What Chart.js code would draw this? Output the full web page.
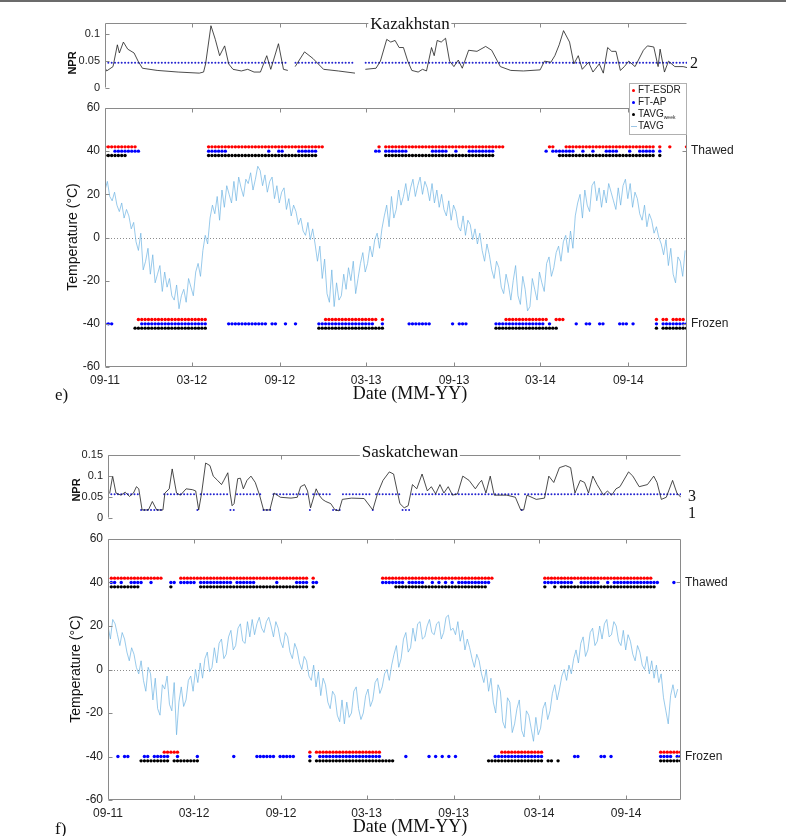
<!DOCTYPE html>
<html><head><meta charset="utf-8">
<script src="https://cdn.jsdelivr.net/npm/chart.js@4.4.1/dist/chart.umd.min.js"></script>
<style>
html,body{margin:0;padding:0;background:#fff;}
#page{position:relative;width:786px;height:836px;overflow:hidden;background:#fff;}
canvas{position:absolute;left:0;}
.t{position:absolute;white-space:nowrap;color:#111;line-height:1;}
.serif{font-family:'Liberation Serif','Times New Roman',serif;}
.sans{font-family:'Liberation Sans',Arial,sans-serif;}
.rot{transform:translate(-50%,-50%) rotate(-90deg);}
.ctr{transform:translate(-50%,-50%);}
.dot{position:absolute;width:3px;height:3px;border-radius:50%;}
</style></head>
<body><div id="page">
<div style="position:absolute;left:0;top:0;width:786px;height:2px;background:#6b6b6b"></div>
<canvas id="nprK" width="786" height="100" style="top:0px"></canvas>
<canvas id="tempK" width="786" height="320" style="top:80px"></canvas>
<canvas id="nprS" width="786" height="100" style="top:430px"></canvas>
<canvas id="tempS" width="786" height="316" style="top:520px"></canvas>

<div class="t serif ctr" style="left:410px;top:23px;font-size:17px;background:#fff;padding:0 2px;">Kazakhstan</div>
<div class="t sans rot" style="left:72px;top:63px;font-size:11px;font-weight:bold;">NPR</div>
<div class="t serif" style="left:690px;top:55px;font-size:16px;">2</div>
<div class="t sans rot" style="left:72px;top:237px;font-size:14px;">Temperature (°C)</div>
<div class="t serif ctr" style="left:410px;top:393px;font-size:18px;">Date (MM-YY)</div>
<div class="t serif" style="left:55px;top:386px;font-size:17px;">e)</div>

<div style="position:absolute;left:629px;top:83px;width:56px;height:50px;border:1px solid #b0b0b0;background:#fff;">
  <div class="dot" style="left:2px;top:5px;background:#ff0000"></div>
  <div class="t sans" style="left:8px;top:1px;font-size:10px;color:#222">FT-ESDR</div>
  <div class="dot" style="left:2px;top:17px;background:#0000ff"></div>
  <div class="t sans" style="left:8px;top:13px;font-size:10px;color:#222">FT-AP</div>
  <div class="dot" style="left:2px;top:29px;background:#000"></div>
  <div class="t sans" style="left:8px;top:25px;font-size:10px;color:#222">TAVG<span style="font-size:5px;vertical-align:-2px">week</span></div>
  <div style="position:absolute;left:1px;top:42px;width:6px;height:1px;background:#9cc6e6"></div>
  <div class="t sans" style="left:8px;top:37px;font-size:10px;color:#222">TAVG</div>
</div>

<div class="t serif ctr" style="left:410px;top:451px;font-size:17px;background:#fff;padding:0 2px;">Saskatchewan</div>
<div class="t sans rot" style="left:76px;top:490px;font-size:11px;font-weight:bold;">NPR</div>
<div class="t serif" style="left:688px;top:488px;font-size:16px;">3</div>
<div class="t serif" style="left:688px;top:505px;font-size:16px;">1</div>
<div class="t sans rot" style="left:75px;top:669px;font-size:14px;">Temperature (°C)</div>
<div class="t serif ctr" style="left:410px;top:826px;font-size:18px;">Date (MM-YY)</div>
<div class="t serif" style="left:55px;top:820px;font-size:17px;">f)</div>
</div>

<script>
// ---------------- DATA ----------------
const tickDays = [0, 182, 366, 547, 731, 912, 1096];
const tickLabels = ['09-11', '03-12', '09-12', '03-13', '09-13', '03-14', '09-14'];
const tempTicks = [-60, -40, -20, 0, 20, 40, 60];
const stateTicks = [-40, 40];
const stateLabels = ['Frozen', 'Thawed'];
const nprKTicks = [0, 0.05, 0.1];
const nprKTickLabels = ['0', '0.05', '0.1'];
const nprSTicks = [0, 0.05, 0.1, 0.15];
const nprSTickLabels = ['0', '0.05', '0.1', '0.15'];
const WEEK_DAYS = 7;
const TEMP_STEP_DAYS = 5;

// daily mean air temperature (sampled every 5 days), Kazakhstan
const tempK = [
22,26,19,17,21,15,12,16,9,13,
10,4,7,-2,-6,2,-15,-11,-5,-17,
-8,-21,-17,-13,-25,-16,-23,-19,-27,-29,
-22,-33,-27,-24,-30,-19,-23,-27,-16,-12,
-18,-6,1,-3,9,15,11,19,8,22,
14,24,20,16,26,17,28,23,19,27,
25,30,22,27,33,31,24,29,21,26,
28,18,24,16,21,23,13,18,10,15,
12,6,9,3,1,7,-1,4,-3,-11,
-4,-19,-10,-26,-30,-15,-32,-21,-29,-27,
-17,-24,-14,-20,-11,-26,-19,-12,-7,-16,
-12,-4,-9,-1,2,-5,4,10,15,5,
19,9,13,22,15,19,25,17,23,27,
19,24,28,20,26,23,17,25,16,22,
14,20,13,10,17,8,15,12,5,3,
10,1,8,6,-1,4,-3,2,-6,-11,
-3,-8,-15,-19,-11,-14,-23,-26,-17,-22,
-29,-20,-13,-27,-31,-18,-24,-34,-32,-19,
-24,-29,-16,-21,-25,-12,-9,-18,-14,-7,
-4,-11,-2,1,-7,3,-5,10,16,20,
9,22,15,12,24,26,17,23,14,22,
16,25,21,17,13,23,15,24,27,18,
25,14,21,18,11,8,15,5,11,8,
2,5,0,-3,-8,-1,-13,-5,-17,-21,
-9,-11,-18,-6
];
// daily mean air temperature (sampled every 5 days), Saskatchewan
const tempS = [
20,14,23,21,16,11,17,14,8,4,
10,7,1,-2,4,-5,-10,1,-2,-14,
-4,-18,-21,-7,-9,-3,-16,-19,-6,-30,
-15,-8,-17,-14,-5,-3,-10,0,-6,3,
-4,5,8,-1,1,10,3,12,14,5,
7,15,18,9,11,19,21,13,12,22,
15,23,16,21,24,19,17,22,24,20,
15,22,19,13,10,17,15,8,5,12,
9,3,0,6,4,-3,-5,2,-8,-1,
-12,-4,-7,-15,-18,-10,-12,-21,-24,-14,
-25,-15,-22,-20,-10,-8,-18,-23,-20,-12,
-9,-17,-14,-6,-4,-11,-8,-2,0,-5,
2,7,11,1,5,14,17,8,10,19,
13,21,22,14,15,20,23,17,16,21,
22,14,17,24,25,18,19,16,22,13,
18,9,14,10,5,1,7,4,-2,-6,
0,-10,-4,-15,-20,-7,-10,-24,-27,-13,
-15,-29,-25,-18,-14,-28,-31,-19,-21,-27,
-33,-22,-30,-27,-18,-15,-23,-19,-11,-7,
-14,-9,-3,0,-5,2,-2,5,9,3,
12,15,6,9,17,19,11,13,20,14,
21,23,15,16,22,20,13,11,18,9,
16,13,7,4,11,8,2,0,6,-2,
4,-4,2,-6,-2,-13,-19,-25,-12,-7,
-13,-9
];

// weekly freeze/thaw states: T = thawed, F = frozen, - = no retrieval
const esdrK = "TTTTTTTTTT FFFFFFFFFF FFFFFFFFFF FTTTTTTTTT TTTTTTTTTT TTTTTTTTTT TTTTTTFFFF FFFFFFFFFF FFTFTTTTTT TTTTTTTTTT TTTTTTTTTT TTTTTTTTTT FFFFFFFFFF FFFTTFFFTT TTTTTTTTTT TTTTTTTTTT TTTTTFTFFT FFFFT";
const apK   = "FFFTTTTTTT TFFFFFFFFF FFFFFFFFFF FTTTTTTFFF FFFFFFFFFT FFTTF--FTT TTTTFFFFFF FFFFFFFFFF FTTFTTTTTT TFFFFFFFTT TTT-FTFFFT TTTTTTTFFF FFFFFFFFFF FFTFTTTTTT TF-TFFT-FF TTTTFFFTF- TTTTTFTFFF FFFFF";
const tavgK = "TTTTTTT--F FFFFFFFFFF FFFFFFFFFF FTTTTTTTTT TTTTTTTTTT TTTTTTTTTT TTTTFFFFFF FFFFFFFFFF FFFFTTTTTT TTTTTTTTTT TTTTTTTTTT TTTTTTTFFF FFFFFFFFFF FFFFFFTTTT TTTTTTTTTT TTTTTTTTTT TTTTTFTFFF FFFFF";
const esdrS = "-TTTTTTTTT TTTTTTTFFF FFTTTTTTTT TTTTTTTTTT TTTTTTTTTT TTTTTTTTTT TFTFFFFFFF FFFFFFFFFF FFFTTTTTTT TTTTTTTTTT TTTTTTTTTT TTTTTTT--F FFFFFFFFFF FFTTTTTTTT TTTTTTTTTT TTTTTTTTTT TTTTT--FFF FFFF";
const apS   = "-TTFTFFTTT TFFTFFFFFT TFTTTTTFTT TTTTTTTTFT TTTTTFFFFF FTFFFFFTTT TFTTFFFFFF FFFFFFFFFF FFFTTTTTTT FTTTTT-FTF TFTFTFTTTT TTTTTT-FFF FFFFFFFFFF FFTTTTTTTT TFFTTTTTTF FTFTTTTTTT TTTTTTTFFF FTFF";
const tavgS = "-TTTTTTTTT FFFFFFFFFT FFFFFFFFTT TTTTTTTTTT TTTTTTTTTT TTTTTTTTTT TFTFFFFFFF FFFFFFFFFF FFFFFFFTTT TTTTTTTTTT TTTTTTTTTT TTTTTFFFFF FFFFFFFFFF FFTFFTFTTT TTTTTTTTTT TTTTTTTTTT TTTTTT-FFF FFFF";

// NPR (week, value); null = gap
const nprKWeeks = [0,0.5,2.4,3.7,4.3,5.5,6.8,8.7,9.9,11.2,15.6,21.9,28.2,29.5,30.1,31.7,33,34.3,35.8,37,38.3,40.8,42.7,44.6,46.5,48.4,49.6,51.9,53.4,54.7,55.8,56.9,59.7,62.2,65.4,69.8,74.8,76.3,77.9,81.1,82.4,84.3,85.5,86.8,88,89.3,90.6,91.8,93.7,95,96.2,97.7,98.5,99.4,100.6,101.9,103.1,104.4,105.7,106.9,108.8,111.3,113.9,115.7,118.3,121.4,125.2,130.2,131.5,133.4,134.6,135.9,137.2,139,140.3,141.6,142.8,144.7,146,147.9,149.1,150.4,151.6,152.9,154.2,155.4,156.7,158.6,161.1,162.3,164.2,165.5,166.1,167.4,168.6,170.5,173,174.3];
const nprKVals  = [0.038,0.032,0.04,0.08,0.065,0.085,0.072,0.065,0.05,0.037,0.033,0.03,0.028,0.03,0.045,0.115,0.09,0.06,0.078,0.045,0.035,0.032,0.035,0.03,0.03,0.06,0.035,0.082,0.035,0.033,null,0.04,0.067,0.055,0.035,0.032,0.028,null,0.035,0.037,0.05,0.09,0.085,0.088,0.075,0.075,0.05,0.033,0.03,0.035,0.032,0.075,0.06,0.088,0.085,0.092,0.05,0.04,0.052,0.037,0.07,0.068,0.077,0.07,0.04,0.033,0.032,0.034,0.05,0.048,0.06,0.08,0.106,0.085,0.045,0.06,0.035,0.048,0.03,0.045,0.028,0.075,0.068,0.068,0.033,0.04,0.05,0.04,0.07,0.078,0.076,0.04,0.072,0.03,0.05,0.04,0.04,0.038];
const nprSWeeks = [0.5,1.4,2.4,3.9,5.2,6.5,7.7,8.6,9.3,10.3,12.2,13.4,14.7,16.6,17.2,18.5,19.4,20.7,21.9,23.6,25.5,26.5,27.4,28.3,29.5,30.8,31.8,33.1,34.3,35,36.2,36.9,37.5,38.1,39.2,40,40.9,42,43.2,44.5,45.8,47,48.9,50.2,52.1,55.3,57.2,58.2,59.4,60.3,61.2,62.9,63.8,64.8,65.8,67.3,68.6,69.8,70.8,73.6,77.4,80,81.5,83.1,85,86.3,88.2,89.5,90.7,92,93.3,94.9,96.5,97.7,99,100.3,101.5,102.8,104.1,105.6,107.2,109.1,111,112.3,112.9,114.2,115.5,116.7,120.5,123.1,124.7,125.6,126.6,129.4,131.9,133.2,134.7,136.4,138.3,139.8,141.1,142.7,144,145.2,146.5,147.8,149.7,150.9,152.2,153.5,154.7,157.3,158.6,160.5,163,164.9,165.9,167.2,168.7,170.6,171.9,173.1];
const nprSVals  = [0.059,0.1,0.06,0.055,0.062,0.052,0.06,0.075,0.07,0.02,0.02,0.04,0.02,0.02,0.06,0.07,0.117,0.06,0.055,0.07,0.068,0.065,0.02,0.06,0.131,0.125,0.1,0.09,0.08,0.09,0.108,0.06,0.03,0.035,0.094,0.095,0.07,0.09,0.1,0.085,0.055,0.02,0.02,0.06,0.05,0.048,0.05,0.075,0.08,0.065,0.025,0.07,0.055,0.045,0.04,0.035,0.02,0.018,0.045,0.048,0.047,0.02,0.06,0.09,0.11,0.105,0.035,0.025,0.03,0.08,0.07,0.105,0.065,0.075,0.058,0.08,0.06,0.075,0.055,0.058,0.1,0.09,0.07,0.085,0.09,0.06,0.1,0.055,0.055,0.05,0.02,0.02,0.055,0.045,0.048,0.1,0.085,0.12,0.125,0.12,0.06,0.09,0.085,0.06,0.1,0.08,0.055,0.065,0.055,0.07,0.075,0.11,0.1,0.075,0.08,0.1,0.085,0.045,0.05,0.09,0.06,0.05];

// weekly NPR threshold class (H = upper level, L = lower level, - = none)
const thrK = "HHHHHHHHHH HHHHHHHHHH HHHHHHHHHH HHHHHHHHHH HHHHHHHHHH HHHHH--HHH HHHHHHHHHH HHHHH---HH HHHHHHHHHH HHHHHHHHHH HHHHHHHHHH HHHHHHHHHH HHHHHHHHHH HHHHHHHHHH HHHHHHHHHH HHHHHHHHHH HHHHHHHHHH HHHHH";
const thrS = "HHHHHHHHHH LLLLLLLHHH HHHHHHHLHH HHHHHHHLLH HHHHHHHLLL HHHHHHHHHH HLHHHHHHLL LHHHHHHHHH LHHHHHHHHL LLHHHHHHHH HHHHHHHHHH HHHHHHHHHH HHHHHLHHHH HHHHHHHHHH HHHHHHHHHH HHHHHHHHHH HHHHHHHHHH HHHH";
const thrKLevels = { H: 0.047 };
const thrSLevels = { H: 0.057, L: 0.02 };

// ---------------- HELPERS ----------------
function statePoints(str, thawY, frozY) {
  const s = str.replace(/ /g, '');
  const pts = [];
  for (let i = 0; i < s.length; i++) {
    if (s[i] === 'T') pts.push({ x: i * WEEK_DAYS, y: thawY });
    else if (s[i] === 'F') pts.push({ x: i * WEEK_DAYS, y: frozY });
  }
  return pts;
}
function thrPoints(str, levels) {
  const s = str.replace(/ /g, '');
  const pts = [];
  for (let i = 0; i < s.length; i++) if (levels[s[i]] !== undefined) pts.push({ x: i * WEEK_DAYS, y: levels[s[i]] });
  return pts;
}
function nprPoints(weeks, vals) { return weeks.map((w, i) => ({ x: w * WEEK_DAYS, y: vals[i] })); }
function tempPoints(vals) { return vals.map((v, i) => ({ x: i * TEMP_STEP_DAYS, y: v })); }

const framePlugin = {
  id: 'frame',
  beforeDatasetsDraw(chart, args, o) {
    if (!o || !o.zero) return;
    const { ctx, chartArea: a } = chart;
    const y = Math.round(chart.scales.y.getPixelForValue(0)) + 0.5;
    ctx.save(); ctx.strokeStyle = '#8c8c8c'; ctx.lineWidth = 1; ctx.setLineDash([1, 2]);
    ctx.beginPath(); ctx.moveTo(a.left, y); ctx.lineTo(a.right, y); ctx.stroke(); ctx.restore();
  },
  afterDatasetsDraw(chart, args, o) {
    if (!o || !o.sides) return;
    const { ctx, chartArea: a, scales } = chart;
    const L = Math.round(a.left) + 0.5, R = Math.round(a.right) - 0.5, T = Math.round(a.top) + 0.5, B = Math.round(a.bottom) - 0.5;
    const s = o.sides, tl = 4;
    ctx.save(); ctx.strokeStyle = o.color || '#888'; ctx.lineWidth = 1; ctx.beginPath();
    if (s.includes('l')) { ctx.moveTo(L, T); ctx.lineTo(L, B); }
    if (s.includes('r')) { ctx.moveTo(R, T); ctx.lineTo(R, B); }
    if (s.includes('t')) { ctx.moveTo(L, T); ctx.lineTo(R, T); }
    if (s.includes('b')) { ctx.moveTo(L, B); ctx.lineTo(R, B); }
    tickDays.forEach(d => {
      if (d === 0) return;
      const px = Math.round(scales.x.getPixelForValue(d)) + 0.5;
      if (s.includes('t')) { ctx.moveTo(px, T); ctx.lineTo(px, T + tl); }
      if (s.includes('b')) { ctx.moveTo(px, B); ctx.lineTo(px, B - tl); }
    });
    (o.yTicks || []).forEach(v => {
      const py = Math.round(scales.y.getPixelForValue(v)) + 0.5;
      ctx.moveTo(L, py); ctx.lineTo(L + tl, py);
    });
    (o.rTicks || []).forEach(v => {
      const py = Math.round(scales.y.getPixelForValue(v)) + 0.5;
      ctx.moveTo(R, py); ctx.lineTo(R - tl, py);
    });
    ctx.stroke(); ctx.restore();
  }
};
Chart.register(framePlugin);
Chart.defaults.font.family = "'Liberation Sans', Arial, sans-serif";
Chart.defaults.color = '#222';

function baseOpts(pad) {
  return {
    responsive: false, animation: false, events: [],
    layout: { padding: pad },
    plugins: { legend: { display: false }, tooltip: { enabled: false } },
    scales: {}
  };
}

function makeNpr(id, weeks, vals, thrStr, thrLevels, ymax, yt, ytl, pad, xmax) {
  const o = baseOpts(pad);
  o.plugins.frame = { sides: 'lt', color: '#8a8a8a', yTicks: yt };
  o.scales = {
    x: { type: 'linear', display: false, min: 0, max: xmax },
    y: {
      type: 'linear', min: 0, max: ymax,
      afterBuildTicks: sc => { sc.ticks = yt.map(v => ({ value: v })); },
      afterFit: sc => { sc.width = 40; },
      ticks: { autoSkip: false, padding: 5, font: { size: 11 }, callback: (v, i) => ytl[i] },
      grid: { display: false, drawTicks: false }, border: { display: false }
    }
  };
  return new Chart(document.getElementById(id), {
    type: 'scatter',
    data: { datasets: [
      { label: 'NPR', type: 'line', data: nprPoints(weeks, vals), borderColor: '#1e1e1e', borderWidth: 0.8, pointRadius: 0, tension: 0, spanGaps: false },
      { label: 'threshold', data: thrPoints(thrStr, thrLevels), backgroundColor: '#2323d0', borderWidth: 0, pointRadius: 1.0 }
    ] },
    options: o
  });
}

function makeTemp(id, temps, esdr, ap, tavg, pad, xmax) {
  const o = baseOpts(pad);
  o.plugins.frame = { sides: 'lrtb', color: '#8a8a8a', yTicks: tempTicks, rTicks: stateTicks, zero: true };
  o.scales = {
    x: {
      type: 'linear', min: 0, max: xmax,
      afterBuildTicks: sc => { sc.ticks = tickDays.map(v => ({ value: v })); },
      afterFit: sc => { sc.height = 20; },
      ticks: { autoSkip: false, maxRotation: 0, padding: 6, font: { size: 12 }, callback: (v, i) => tickLabels[i] },
      grid: { display: false, drawTicks: false }, border: { display: false }
    },
    y: {
      type: 'linear', min: -60, max: 60,
      afterBuildTicks: sc => { sc.ticks = tempTicks.map(v => ({ value: v })); },
      afterFit: sc => { sc.width = 40; },
      ticks: { autoSkip: false, padding: 5, font: { size: 12 }, callback: v => String(v) },
      grid: { display: false, drawTicks: false }, border: { display: false }
    },
    y2: {
      type: 'linear', position: 'right', min: -60, max: 60,
      afterBuildTicks: sc => { sc.ticks = stateTicks.map(v => ({ value: v })); },
      afterFit: sc => { sc.width = 60; },
      ticks: { autoSkip: false, padding: 4, font: { size: 12 }, callback: (v, i) => stateLabels[i] },
      grid: { display: false, drawTicks: false }, border: { display: false }
    }
  };
  return new Chart(document.getElementById(id), {
    type: 'scatter',
    data: { datasets: [
      { label: 'TAVG', type: 'line', data: tempPoints(temps), borderColor: '#6db3e2', borderWidth: 0.7, pointRadius: 0, tension: 0 },
      { label: 'FT-ESDR', data: statePoints(esdr, 42, -38), backgroundColor: '#ff0000', borderWidth: 0, pointRadius: 1.7 },
      { label: 'FT-AP', data: statePoints(ap, 40, -40), backgroundColor: '#0000ff', borderWidth: 0, pointRadius: 1.7 },
      { label: 'TAVGweek', data: statePoints(tavg, 38, -42), backgroundColor: '#000000', borderWidth: 0, pointRadius: 1.7 }
    ] },
    options: o
  });
}

makeNpr('nprK', nprKWeeks, nprKVals, thrK, thrKLevels, 0.12, nprKTicks, nprKTickLabels, { left: 65, right: 99, top: 23, bottom: 11 }, 1219);
makeTemp('tempK', tempK, esdrK, apK, tavgK, { left: 65, right: 39, top: 28, bottom: 13 }, 1219);
makeNpr('nprS', nprSWeeks, nprSVals, thrS, thrSLevels, 0.15, nprSTicks, nprSTickLabels, { left: 68, right: 105, top: 25, bottom: 9 }, 1212);
makeTemp('tempS', tempS, esdrS, apS, tavgS, { left: 68, right: 45, top: 19, bottom: 16 }, 1212);
</script>
</body></html>
